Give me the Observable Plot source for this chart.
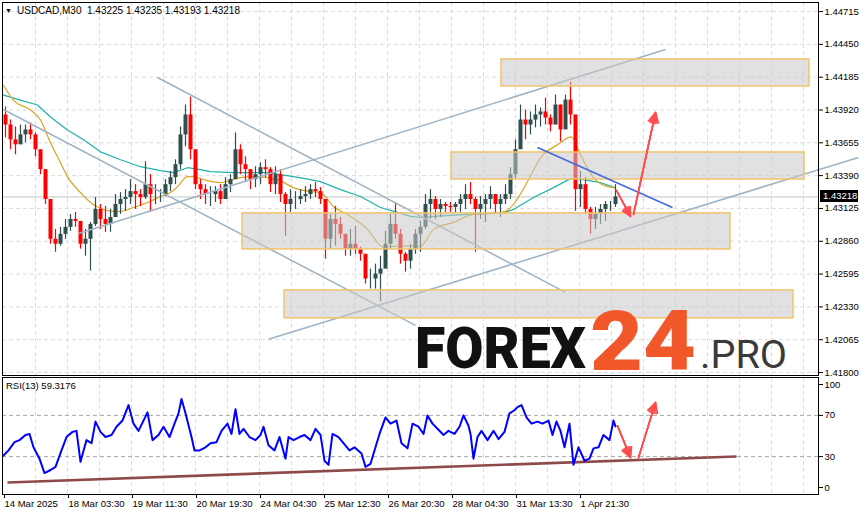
<!DOCTYPE html>
<html><head><meta charset="utf-8">
<script src="https://cdn.jsdelivr.net/npm/d3@7"></script>
<script src="https://cdn.jsdelivr.net/npm/@observablehq/plot@0.6"></script>
<style>
body{margin:0;background:#fff;}
#wrap{position:relative;width:865px;height:515px;overflow:hidden;font-family:"Liberation Sans",Arial,sans-serif;background:#fff;}
#wrap > svg{position:absolute;left:0;}
.lbl{position:absolute;font-size:9.5px;color:#000;white-space:pre;line-height:1;}
</style></head><body><div id="wrap"></div>
<script>
// ---------- DATA ----------
const symbol = "USDCAD,M30";
const headerOHLC = ["1.43225", "1.43235", "1.43193", "1.43218"];
const lastPrice = 1.43218;
const rsiLabel = "RSI(13) 59.3176";

// candles: one candle every 5 M30 bars (bar index of first = 3)
const candleStart = 3, candleStep = 5;
const firstOpen = 1.43880;
const high = [1.43944,1.43839,1.43783,1.43799,1.43799,1.43815,1.43735,1.43599,1.43438,1.43197,1.42956,1.42972,1.43036,1.43077,1.43093,1.43020,1.42956,1.43012,1.43213,1.43157,1.43141,1.43117,1.43237,1.43253,1.43277,1.43358,1.43317,1.43277,1.43502,1.43398,1.43317,1.43277,1.43358,1.43422,1.43518,1.43783,1.43960,1.44024,1.43599,1.43358,1.43317,1.43301,1.43301,1.43317,1.43374,1.43398,1.43735,1.43639,1.43542,1.43438,1.43462,1.43494,1.43518,1.43454,1.43462,1.43438,1.43253,1.43277,1.43261,1.43277,1.43301,1.43317,1.43334,1.43293,1.43197,1.43077,1.43141,1.43052,1.42916,1.42956,1.42980,1.42812,1.42755,1.42635,1.42675,1.42739,1.42940,1.43077,1.43173,1.42956,1.42771,1.42836,1.42956,1.43020,1.43237,1.43277,1.43221,1.43197,1.43173,1.43173,1.43173,1.43237,1.43317,1.43334,1.43213,1.43221,1.43237,1.43301,1.43237,1.43237,1.43317,1.43454,1.43679,1.43960,1.43920,1.43904,1.43960,1.43936,1.44016,1.43880,1.44040,1.43960,1.44040,1.44145,1.43799,1.43422,1.43374,1.43133,1.43133,1.43157,1.43181,1.43181,1.43317];
const low = [1.43695,1.43599,1.43558,1.43639,1.43655,1.43679,1.43542,1.43398,1.43157,1.42836,1.42771,1.42820,1.42876,1.42940,1.42972,1.42796,1.42739,1.42619,1.42980,1.42956,1.42932,1.42932,1.43061,1.43077,1.43101,1.43157,1.43117,1.43141,1.43197,1.43093,1.43157,1.43173,1.43221,1.43261,1.43317,1.43438,1.43623,1.43518,1.43277,1.43197,1.43157,1.43141,1.43173,1.43157,1.43197,1.43253,1.43358,1.43398,1.43334,1.43277,1.43293,1.43317,1.43374,1.43253,1.43237,1.43173,1.42900,1.43093,1.43117,1.43157,1.43173,1.43197,1.43213,1.43157,1.42715,1.42796,1.42820,1.42876,1.42739,1.42739,1.42755,1.42699,1.42514,1.42474,1.42474,1.42370,1.42659,1.42796,1.42876,1.42675,1.42611,1.42635,1.42755,1.42771,1.42956,1.43036,1.43036,1.43052,1.43093,1.43093,1.43093,1.43093,1.43117,1.43157,1.42771,1.43036,1.43012,1.43117,1.43077,1.43052,1.43157,1.43197,1.43358,1.43615,1.43679,1.43719,1.43775,1.43783,1.43799,1.43743,1.43799,1.43663,1.43823,1.43799,1.43101,1.43133,1.43077,1.42916,1.42956,1.42996,1.43020,1.43101,1.43133];
const close = [1.43799,1.43679,1.43639,1.43719,1.43759,1.43719,1.43599,1.43438,1.43197,1.42876,1.42836,1.42916,1.42972,1.43036,1.43020,1.42836,1.42876,1.42996,1.43117,1.43036,1.42996,1.43052,1.43157,1.43197,1.43213,1.43261,1.43237,1.43213,1.43317,1.43237,1.43237,1.43237,1.43317,1.43374,1.43478,1.43719,1.43880,1.43599,1.43317,1.43277,1.43237,1.43237,1.43261,1.43197,1.43317,1.43358,1.43599,1.43478,1.43438,1.43358,1.43398,1.43454,1.43438,1.43317,1.43398,1.43237,1.43157,1.43197,1.43197,1.43221,1.43237,1.43277,1.43261,1.43197,1.42876,1.43036,1.42996,1.42916,1.42796,1.42836,1.42796,1.42755,1.42555,1.42555,1.42595,1.42635,1.42836,1.42996,1.42916,1.42755,1.42699,1.42796,1.42916,1.42972,1.43157,1.43197,1.43117,1.43157,1.43141,1.43133,1.43157,1.43197,1.43237,1.43197,1.43117,1.43157,1.43197,1.43237,1.43157,1.43197,1.43237,1.43398,1.43599,1.43839,1.43799,1.43839,1.43880,1.43904,1.43855,1.43799,1.43960,1.43759,1.44000,1.43880,1.43277,1.43317,1.43117,1.43036,1.43077,1.43117,1.43157,1.43157,1.43218];

// moving averages (bar index, price)
const maFastBar = [1,11,28,38,48,58,65,78,88,98,111,118,131,145,158,168,175,185,191,201,218,238,251,275,291,308,318,331,348,365,381,395,418,431,451,471,491,503,511,525,538,555,569,578,591,605,612];
const maFast = [1.44120,1.44000,1.43920,1.43839,1.43655,1.43494,1.43382,1.43253,1.43173,1.43125,1.43101,1.43101,1.43133,1.43173,1.43221,1.43253,1.43301,1.43382,1.43382,1.43358,1.43334,1.43374,1.43382,1.43358,1.43293,1.43261,1.43253,1.43141,1.43061,1.42956,1.42812,1.42820,1.42820,1.42956,1.43012,1.43077,1.43085,1.43101,1.43157,1.43342,1.43534,1.43639,1.43703,1.43558,1.43374,1.43301,1.43293];
const maSlowBar = [1,18,35,48,65,81,98,118,138,158,171,185,198,208,231,265,291,308,318,338,358,378,395,408,418,431,465,503,511,531,551,568,581,598,612];
const maSlow = [1.44040,1.44000,1.43960,1.43863,1.43759,1.43679,1.43582,1.43518,1.43462,1.43430,1.43414,1.43454,1.43438,1.43422,1.43414,1.43414,1.43382,1.43358,1.43342,1.43277,1.43221,1.43133,1.43093,1.43061,1.43052,1.43061,1.43077,1.43093,1.43117,1.43213,1.43293,1.43366,1.43358,1.43334,1.43293];

// RSI(13)
const rsiBar = [1,6,12,17,23,27,31,37,42,48,53,59,64,70,74,78,84,89,93,98,103,109,114,120,126,131,136,145,150,156,161,167,172,176,179,183,189,192,197,203,208,214,219,225,229,233,237,241,247,253,258,261,266,272,277,283,286,291,297,302,308,313,318,322,326,330,336,341,347,352,359,363,368,372,377,383,388,394,399,405,410,416,421,425,430,435,441,446,452,457,461,466,468,471,475,479,485,491,496,502,507,512,515,519,524,529,535,540,546,550,554,558,562,567,571,576,582,587,591,596,601,607,611,613];
const rsiVal = [31,36,44,46,51,52,39,28,14,17,20,36,49,54,55,25,46,43,64,54,49,51,59,65,80,62,55,73,46,51,59,49,62,72,86,72,49,36,36,39,43,44,55,62,52,76,52,57,49,46,51,59,41,36,49,28,49,46,49,51,46,57,51,26,22,52,49,43,36,39,33,20,23,36,52,68,62,65,43,38,62,59,52,70,62,57,51,55,52,59,70,60,52,28,49,55,46,55,47,54,72,75,78,80,68,62,64,62,65,51,64,55,39,62,22,39,26,28,38,39,51,46,65,59.3];

// axis ticks
const priceTicks = [1.44715,1.44450,1.44185,1.43920,1.43655,1.43390,1.43125,1.42860,1.42595,1.42330,1.42065,1.41800];
const rsiTicks = [0,30,70,100];
const rsiLevels = [30,70];
const timeTickBars = [1,65,129,193,257,321,385,449,513,577];
const timeTickLabels = ["14 Mar 2025","18 Mar 03:30","19 Mar 11:30","20 Mar 19:30","24 Mar 04:30","25 Mar 12:30","26 Mar 20:30","28 Mar 04:30","31 Mar 13:30","1 Apr 21:30"];

// analysis drawings (bar index, price)
const zoneStart = [499,449,240,282];
const zoneEnd   = [807,802,728,791];
const zoneHigh  = [1.44328,1.43577,1.43085,1.42463];
const zoneLow   = [1.44110,1.43359,1.42794,1.42238];
const chanBar1 = [1,155,76,266];
const chanP1   = [1.43924,1.44182,1.42923,1.42068];
const chanBar2 = [413,563,663,856];
const chanP2   = [1.42181,1.42447,1.44408,1.43537];
const trendBar = [535,670];
const trendP   = [1.43617,1.43133];
const arrBar1 = [614,631], arrP1 = [1.43270,1.43077];
const arrBar2 = [628,653], arrP2 = [1.43061,1.43900];
const rsiTrendBar = [5,734], rsiTrendVal = [4.9,30.1];
const rsiArrBar1 = [615,636], rsiArrV1 = [60,29];
const rsiArrBar2 = [628,653], rsiArrV2 = [29,82.5];

// ---------- BUILD ----------
const candles = high.map((h,i)=>({t: candleStart + i*candleStep, open: i ? close[i-1] : firstOpen, high: h, low: low[i], close: close[i]}));
const fastData = maFastBar.map((t,i)=>({t, v: maFast[i]}));
const slowData = maSlowBar.map((t,i)=>({t, v: maSlow[i]}));
const rsiData = rsiBar.map((t,i)=>({t, v: rsiVal[i]}));
const zones = zoneStart.map((s,i)=>({x1:s, x2:zoneEnd[i], y1:zoneHigh[i], y2:zoneLow[i]}));
const chans = chanBar1.map((b,i)=>({x1:b, y1:chanP1[i], x2:chanBar2[i], y2:chanP2[i]}));
const trend = [{x1:trendBar[0], y1:trendP[0], x2:trendBar[1], y2:trendP[1]}];
const arrows = arrBar1.map((b,i)=>({x1:b, y1:arrP1[i], x2:arrBar2[i], y2:arrP2[i]}));
const rsiTrend = [{x1:rsiTrendBar[0], y1:rsiTrendVal[0], x2:rsiTrendBar[1], y2:rsiTrendVal[1]}];
const rsiArrows = rsiArrBar1.map((b,i)=>({x1:b, y1:rsiArrV1[i], x2:rsiArrBar2[i], y2:rsiArrV2[i]}));
const gridBars = d3.range(33, 816, 32);
const tickMap = new Map(timeTickBars.map((b,i)=>[b, timeTickLabels[i]]));

const W = 865, ML = 2, MR = 47;
const xDomain = [0, 816];
const font = {fontFamily:'"Liberation Sans", Arial, sans-serif', fontSize:"9.5px", color:"#000", background:"transparent", overflow:"visible"};
const upC = "#2F4F4F", dnC = "#FF0000";
const col = d => d.close >= d.open ? upC : dnC;
const arrowRed = "#ff4d4d";
// filled-looking arrow heads: stack arrows with widening head angles
const arrowMarks = data => [14, 28, 42, 56].map(a =>
  Plot.arrow(data, {x1:"x1", y1:"y1", x2:"x2", y2:"y2", stroke:arrowRed, strokeWidth:1.5, headLength:11, headAngle:a}));

const main = Plot.plot({
  width: W, height: 377, marginLeft: ML, marginRight: MR, marginTop: 2, marginBottom: 2,
  style: font,
  x: {domain: xDomain, axis: null},
  y: {domain: [1.41776, 1.44788], axis: null},
  marks: [
    Plot.ruleY(priceTicks, {stroke:"#dcdcdc", strokeDasharray:"4,3"}),
    Plot.ruleX(gridBars, {stroke:"#dcdcdc", strokeDasharray:"4,3"}),
    Plot.ruleY([lastPrice], {stroke:"#c4c4c4"}),
    Plot.line(slowData, {x:"t", y:"v", stroke:"#20B2AA", strokeWidth:1.2}),
    Plot.line(fastData, {x:"t", y:"v", stroke:"#DAA520", strokeWidth:1.2, curve:"monotone-x"}),
    Plot.ruleX(candles, {x:"t", y1:"low", y2:"high", stroke:col, strokeWidth:1.2}),
    Plot.ruleX(candles, {x:"t", y1:"open", y2:"close", stroke:col, strokeWidth:4}),
    Plot.link(chans, {x1:"x1", y1:"y1", x2:"x2", y2:"y2", stroke:"#9fb4c4", strokeWidth:1.6}),
    Plot.rect(zones, {x1:"x1", x2:"x2", y1:"y1", y2:"y2", fill:"#c8c8c8", fillOpacity:0.55, stroke:"#f2c36c", strokeWidth:1.5}),
    Plot.link(trend, {x1:"x1", y1:"y1", x2:"x2", y2:"y2", stroke:"#4169E1", strokeWidth:1.6}),
    ...arrowMarks(arrows),
    Plot.frame({stroke:"#000"}),
    Plot.axisY(priceTicks, {anchor:"right", tickSize:4, tickPadding:2, tickFormat: d => d.toFixed(5), fill:"#000", stroke:"#000"})
  ]
});
main.style.top = "0px";

const rsi = Plot.plot({
  width: W, height: 139, marginLeft: ML, marginRight: MR, marginTop: 1, marginBottom: 21,
  style: font,
  x: {domain: xDomain, axis: null},
  y: {domain: [-6.8, 106.8], axis: null},
  marks: [
    Plot.ruleX(gridBars, {stroke:"#dcdcdc", strokeDasharray:"4,3"}),
    Plot.ruleY(rsiLevels, {stroke:"#a8a8a8", strokeDasharray:"4,3"}),
    Plot.link(rsiTrend, {x1:"x1", y1:"y1", x2:"x2", y2:"y2", stroke:"#8e4a4a", strokeWidth:2.6}),
    Plot.line(rsiData, {x:"t", y:"v", stroke:"#0000ff", strokeWidth:2}),
    ...arrowMarks(rsiArrows),
    Plot.frame({stroke:"#000"}),
    Plot.axisY(rsiTicks, {anchor:"right", tickSize:4, tickPadding:2, fill:"#000", stroke:"#000"}),
    Plot.axisX(timeTickBars, {anchor:"bottom", tickSize:4, tickPadding:2, textAnchor:"start", dx:1, tickFormat: d => tickMap.get(d), fill:"#000", stroke:"#000"})
  ]
});
rsi.style.top = "376px";

const wrap = document.getElementById("wrap");
wrap.appendChild(main);
wrap.appendChild(rsi);

function lbl(text, left, top, extra) {
  const d = document.createElement("div");
  d.className = "lbl"; d.textContent = text;
  d.style.left = left + "px"; d.style.top = top + "px";
  if (extra) Object.assign(d.style, extra);
  wrap.appendChild(d); return d;
}
lbl("\u25BC", 5, 7, {fontSize:"7px"});
lbl(symbol + "  " + headerOHLC.join(" "), 17, 6, {fontSize:"10px"});
lbl(rsiLabel, 6, 381);
const yLast = main.scale("y").apply(lastPrice);
lbl(lastPrice.toFixed(5), 820, yLast - 6, {background:"#000", color:"#fff", padding:"1px 2px 1px 3px", width:"33px"});

// watermark
const ns = "http://www.w3.org/2000/svg";
const wm = document.createElementNS(ns, "svg");
wm.setAttribute("width", 865); wm.setAttribute("height", 515);
wm.style.position = "absolute"; wm.style.left = "0"; wm.style.top = "0";
const parts = [
  {t:"FOREX", x:415, y:368, size:58, w:900, c:"#111", len:171},
  {t:"24", x:590, y:370, size:84, w:900, c:"#F0582A", len:106},
  {t:".PRO", x:700, y:368, size:39, w:400, c:"#3a3a3a", len:87}
];
for (const p of parts) {
  const t = document.createElementNS(ns, "text");
  t.setAttribute("x", p.x); t.setAttribute("y", p.y);
  t.setAttribute("font-family", "Roboto, 'Liberation Sans', sans-serif");
  t.setAttribute("font-size", p.size); t.setAttribute("font-weight", p.w);
  t.setAttribute("textLength", p.len); t.setAttribute("lengthAdjust", "spacingAndGlyphs");
  t.setAttribute("fill", p.c); t.textContent = p.t;
  wm.appendChild(t);
}
wrap.appendChild(wm);
</script></body></html>
